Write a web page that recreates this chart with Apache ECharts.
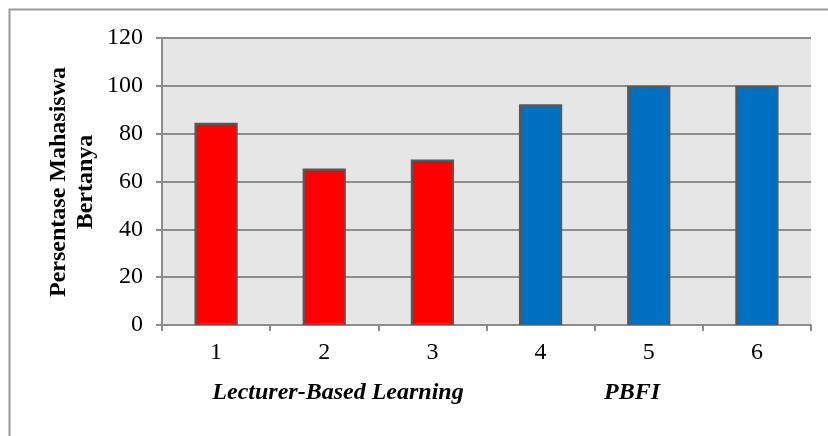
<!DOCTYPE html>
<html>
<head>
<meta charset="utf-8">
<script src="https://cdn.jsdelivr.net/npm/echarts@6/dist/echarts.min.js"></script>
<style>
  html, body { margin: 0; padding: 0; background: #ffffff; }
  #chart { width: 828px; height: 436px; }
</style>
</head>
<body>
<div id="chart"></div>
<script>
// Sessions 1-6; first three under lecturer-based learning, last three under PBFI
const categories = ['1', '2', '3', '4', '5', '6'];
const percentages = [84.6, 65.4, 69.2, 92.3, 100, 100];
const barColors = ['#ff0000', '#ff0000', '#ff0000', '#0070c0', '#0070c0', '#0070c0'];
const yTicks = [0, 20, 40, 60, 80, 100, 120];
const groupNames = ['Lecturer-Based Learning', 'PBFI'];
const yTitle = 'Persentase Mahasiswa\nBertanya';

const serif = '"Liberation Serif", "Times New Roman", serif';
const chart = echarts.init(document.getElementById('chart'), null, { renderer: 'canvas' });

chart.setOption({
  animation: false,
  backgroundColor: '#ffffff',
  grid: {
    left: 162, right: 17, top: 38, bottom: 111,
    show: true, backgroundColor: '#e6e6e6', borderWidth: 0
  },
  xAxis: {
    type: 'category',
    data: categories,
    boundaryGap: true,
    axisLine: { lineStyle: { color: '#8c8c8c', width: 2 } },
    axisTick: { show: true, length: 6, alignWithLabel: false, lineStyle: { color: '#8c8c8c', width: 2 } },
    axisLabel: { color: '#000', fontFamily: serif, fontSize: 24, margin: 16 },
    splitLine: { show: false }
  },
  yAxis: {
    type: 'value',
    min: yTicks[0],
    max: yTicks[yTicks.length - 1],
    interval: yTicks[1] - yTicks[0],
    axisLine: { show: true, lineStyle: { color: '#8c8c8c', width: 2 } },
    axisTick: { show: true, length: 6, lineStyle: { color: '#8c8c8c', width: 2 } },
    axisLabel: { color: '#000', fontFamily: serif, fontSize: 24, margin: 19 },
    splitLine: { show: true, lineStyle: { color: '#8c8c8c', width: 2 } }
  },
  series: [{
    type: 'bar',
    data: percentages.map((v, i) => ({
      value: v,
      itemStyle: { color: barColors[i] }
    })),
    barWidth: '40%',
    itemStyle: { borderColor: '#595959', borderWidth: 2 }
  }],
  graphic: [
    {
      type: 'rect',
      shape: { x: 9.5, y: 9.5, width: 900, height: 600 },
      style: { fill: 'none', stroke: '#9a9a9a', lineWidth: 2 },
      silent: true, z: -1
    },
    {
      type: 'text',
      x: 72, y: 182,
      rotation: Math.PI / 2,
      style: {
        text: yTitle,
        fontFamily: serif, fontSize: 24, fontWeight: 'bold',
        fill: '#000', align: 'center', verticalAlign: 'middle', lineHeight: 27
      }
    },
    {
      type: 'text',
      x: 338, y: 393,
      style: {
        text: groupNames[0],
        fontFamily: serif, fontSize: 24, fontWeight: 'bold', fontStyle: 'italic',
        fill: '#000', align: 'center', verticalAlign: 'middle'
      }
    },
    {
      type: 'text',
      x: 632, y: 393,
      style: {
        text: groupNames[1],
        fontFamily: serif, fontSize: 24, fontWeight: 'bold', fontStyle: 'italic',
        fill: '#000', align: 'center', verticalAlign: 'middle'
      }
    }
  ]
});
</script>
</body>
</html>
